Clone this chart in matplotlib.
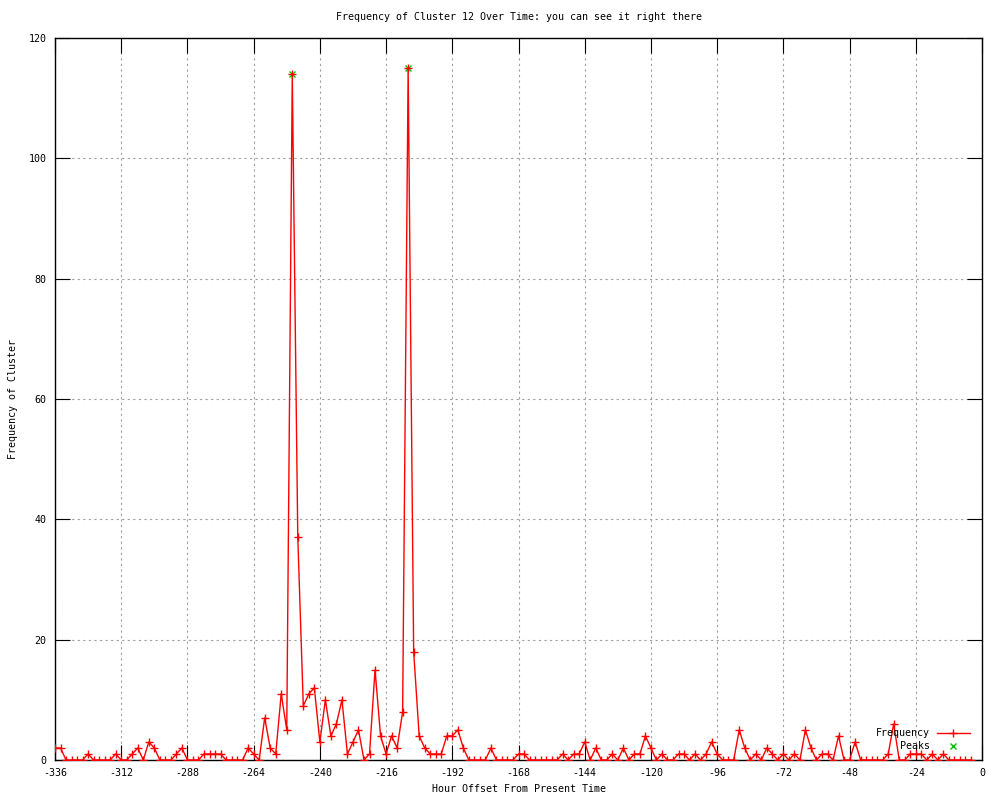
import matplotlib
matplotlib.use("Agg")
import matplotlib.pyplot as plt
from matplotlib.lines import Line2D

# ---- data ----
hours = list(range(-336, -3, 2))  # sampling grid: every 2 hours
frequency = [
    2, 2, 0, 0, 0, 0, 1, 0, 0, 0, 0, 1, 0, 0, 1, 2, 0, 3, 2, 0,   # -336 .. -298
    0, 0, 1, 2, 0, 0, 0, 1, 1, 1, 1, 0, 0, 0, 0, 2, 1, 0, 7, 2,   # -296 .. -258
    1, 11, 5, 114, 37, 9, 11, 12, 3, 10, 4, 6, 10, 1, 3, 5, 0, 1, 15, 4,  # -256 .. -218
    1, 4, 2, 8, 115, 18, 4, 2, 1, 1, 1, 4, 4, 5, 2, 0, 0, 0, 0, 2,  # -216 .. -178
    0, 0, 0, 0, 1, 1, 0, 0, 0, 0, 0, 0, 1, 0, 1, 1, 3, 0, 2, 0,   # -176 .. -138
    0, 1, 0, 2, 0, 1, 1, 4, 2, 0, 1, 0, 0, 1, 1, 0, 1, 0, 1, 3,   # -136 .. -98
    1, 0, 0, 0, 5, 2, 0, 1, 0, 2, 1, 0, 1, 0, 1, 0, 5, 2, 0, 1,   # -96 .. -58
    1, 0, 4, 0, 0, 3, 0, 0, 0, 0, 0, 1, 6, 0, 0, 1, 1, 1, 0, 1,   # -56 .. -18
    0, 1, 0, 0, 0, 0, 0,                                          # -16 .. -4
]
peak_hours = [-250, -208]
peak_values = [114, 115]

x_ticks = list(range(-336, 1, 24))
y_ticks = list(range(0, 121, 20))

title = "Frequency of Cluster 12 Over Time: you can see it right there"
x_label = "Hour Offset From Present Time"
y_label = "Frequency of Cluster"

# ---- style ----
plt.rcParams['font.family'] = ['DejaVu Sans Mono', 'DejaVu Sans']
plt.rcParams['axes.unicode_minus'] = False
FS = 7.2
RED = '#ff0000'
GREEN = '#00c000'

fig = plt.figure(figsize=(10, 8), dpi=100)
ax = fig.add_axes([0.055, 0.05, 0.927, 0.9025])

ax.plot(hours, frequency, color=RED, lw=1.0, marker='+', ms=6, mew=1.0, zorder=3)
ax.plot(peak_hours, peak_values, ls='none', color=GREEN, marker='x', ms=5, mew=1.0, zorder=2)

ax.set_xlim(-336, 0)
ax.set_ylim(0, 120)
ax.set_xticks(x_ticks)
ax.set_yticks(y_ticks)
ax.tick_params(direction='in', length=11, width=0.8, top=True, right=True,
               labelsize=FS, pad=6, colors='black')
ax.grid(True, color='#a0a0a0', linestyle=(0, (2, 3)), linewidth=0.8)
ax.set_axisbelow(True)
for s in ax.spines.values():
    s.set_linewidth(1.0)
    s.set_color('black')

ax.set_title(title, fontsize=FS, pad=13)
ax.set_xlabel(x_label, fontsize=FS, labelpad=4)
ax.set_ylabel(y_label, fontsize=FS, va='center')
ax.yaxis.set_label_coords(-0.045, 0.5)

# gnuplot-style key at the bottom right: right-justified text, sample after it
ax.text(0.944, 0.0374, "Frequency", transform=ax.transAxes, ha='right', va='center',
        fontsize=FS, zorder=5)
ax.add_line(Line2D([0.951, 0.987], [0.0374, 0.0374], transform=ax.transAxes,
                   color=RED, lw=1.0, zorder=5))
ax.add_line(Line2D([0.969], [0.0374], transform=ax.transAxes, color=RED,
                   marker='+', ms=6, mew=1.0, zorder=5))
ax.text(0.944, 0.0194, "Peaks", transform=ax.transAxes, ha='right', va='center',
        fontsize=FS, zorder=5)
ax.add_line(Line2D([0.969], [0.0194], transform=ax.transAxes, color=GREEN,
                   marker='x', ms=5, mew=1.0, ls='none', zorder=5))

fig.savefig("out.png", dpi=100)
